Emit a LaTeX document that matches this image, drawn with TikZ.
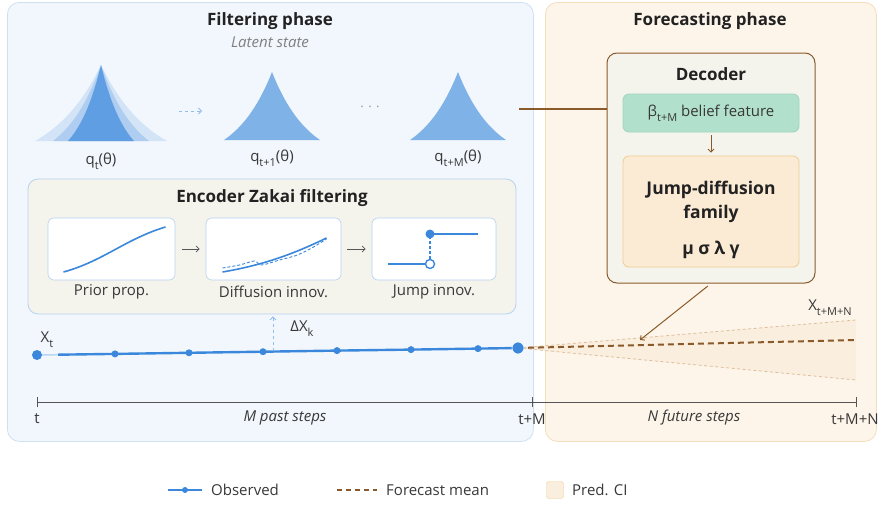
\documentclass[tikz,border=0pt]{standalone}
\usepackage{fontspec}
\setmainfont{Open Sans}
\usetikzlibrary{arrows.meta, positioning, calc, backgrounds}

\definecolor{ink}{HTML}{222222}
\definecolor{obs}{HTML}{3B87DB}
\definecolor{obslight}{HTML}{B9D6F3}
\definecolor{fcst}{HTML}{8B5A2B}
\definecolor{filtbg}{HTML}{F2F7FD}
\definecolor{filtln}{HTML}{CFE0F3}
\definecolor{fcstbg}{HTML}{FDF5EA}
\definecolor{fcstln}{HTML}{F5DEBD}
\definecolor{encbg}{HTML}{F4F3EC}
\definecolor{encln}{HTML}{B7D2EF}
\definecolor{belbg}{HTML}{B1E0CC}
\definecolor{belln}{HTML}{9FD5BE}
\definecolor{jdbg}{HTML}{FBEBD5}
\definecolor{jdln}{HTML}{F1CD8F}
\definecolor{cibg}{HTML}{FAEEDE}
\definecolor{ciln}{HTML}{DDBF9B}
\definecolor{pkout}{HTML}{D3E4F7}
\definecolor{pkmid}{HTML}{AECDF0}
\definecolor{pkin}{HTML}{5F9EE2}
\definecolor{pk}{HTML}{7FB3E8}
\definecolor{axisc}{HTML}{555555}

% lowered subscript, as in q_t
\newcommand{\lo}[1]{\raisebox{-0.6ex}{\fontsize{11}{11}\selectfont#1}}

\tikzset{
  phase/.style={rectangle, rounded corners=12pt, line width=0.8pt, anchor=north west},
  box/.style={rectangle, rounded corners=10pt, line width=0.8pt},
  ttl/.style={font=\fontsize{17}{21}\selectfont\bfseries, text=ink, align=center, inner sep=1pt},
  note/.style={font=\fontsize{15}{18}\selectfont\itshape, text=black!50, inner sep=1pt},
  lbl/.style={font=\fontsize{15}{18}\selectfont, text=ink!90, inner sep=1pt},
  pane/.style={rectangle, rounded corners=6pt, draw=encln, fill=white, line width=0.6pt, minimum height=62pt},
  obsline/.style={draw=obs, line width=2.4pt},
  obsdot/.style={circle, fill=obs, inner sep=0pt, minimum size=7pt},
  fl/.style={-{Straight Barb[length=3pt, width=6pt]}, line width=0.8pt},
  ciedge/.style={draw=ciln, line width=0.8pt, dash pattern=on 3pt off 2.5pt},
  mean/.style={draw=fcst, line width=2pt, dash pattern=on 6pt off 4pt}
}

\begin{document}
\begin{tikzpicture}[x=1pt, y=-1pt]
\useasboundingbox (0,0) rectangle (884,506);
\fill[white] (0,0) rectangle (884,506);

% the two phases
\node[phase, draw=filtln, fill=filtbg, minimum width=526pt, minimum height=439pt] (filt) at (7,2) {};
\node[phase, draw=fcstln, fill=fcstbg, minimum width=331pt, minimum height=439pt] (fore) at (545,2) {};
\node[ttl] (filtttl) at (270,21) {Filtering phase};
\node[note] (latent) at (270,42) {Latent state};
\node[ttl] (forettl) at (710,21) {Forecasting phase};

% latent densities
\foreach \w/\c in {66/pkout, 48/pkmid, 33/pkin}
  \fill[\c] plot[domain=-\w:\w, samples=81, variable=\u]
    ({101+\u}, {141-76*(exp(-1.3*abs(\u)/\w)-exp(-1.3))/(1-exp(-1.3))}) -- cycle;
\foreach \cx in {272, 458}
  \fill[pk] plot[domain=-48:48, samples=81, variable=\u]
    ({\cx+\u}, {140-68*(exp(-1.3*abs(\u)/48)-exp(-1.3))/(1-exp(-1.3))}) -- cycle;
\coordinate (pk1) at (101,111);
\coordinate (pk2) at (272,111);
\coordinate (pk3) at (519,109);
\node[lbl] (q1) at (101,161) {q\lo{t}(θ)};
\node[lbl] (q2) at (272,158) {q\lo{t+1}(θ)};
\node[lbl] (q3) at (458,158) {q\lo{t+M}(θ)};
\draw[fl, obs!55, dashed, shorten <=78pt, shorten >=70pt] (pk1) -- (pk2);
\node[text=black!40, font=\fontsize{13}{13}\selectfont] (dots) at (370,109) {·\,\,·\,\,·};

% decoder
\node[box, draw=fcst, fill=encbg, line width=1pt, minimum width=208pt, minimum height=230pt] (dec) at (711,168) {};
\node[ttl] (decttl) at (711,74) {Decoder};
\node[box, rounded corners=6pt, draw=belln, fill=belbg, minimum width=176pt, minimum height=38pt, lbl] (bel) at (711,113) {β\lo{t+M} belief feature};
\node[box, rounded corners=6pt, draw=jdln, fill=jdbg, minimum width=176pt, minimum height=111pt] (jd) at (711,211.5) {};
\node[ttl, font=\fontsize{17.5}{24}\selectfont\bfseries] (jdname) at (711,202) {Jump-diffusion\\family};
\node[ttl, font=\fontsize{17.5}{20}\selectfont\bfseries] (jdpar) at (711,250) {μ σ λ γ};
\draw[fl, fcst, shorten <=3pt, shorten >=3pt] (bel) -- (jd);
\draw[fcst, line width=1.2pt] (pk3) -- (pk3 -| dec.west);

% encoder
\node[box, draw=encln, fill=encbg, minimum width=488pt, minimum height=135pt] (enc) at (272,246.5) {};
\node[ttl] (encttl) at (272,198) {Encoder Zakai filtering};
\node[pane, minimum width=127pt] (prior) at (111.5,249) {};
\node[pane, minimum width=135pt] (diff) at (273.5,249) {};
\node[pane, minimum width=124pt] (jump) at (434,249) {};
\node[lbl] at (111.5,292) {Prior prop.};
\node[lbl] at (273.5,292) {Diffusion innov.};
\node[lbl] at (434,292) {Jump innov.};
\draw[fl, axisc, shorten <=7pt, shorten >=6pt] (prior) -- (diff);
\draw[fl, axisc, shorten <=6pt, shorten >=6pt] (diff) -- (jump);

\begin{scope}[shift={(prior.center)}]
  \draw[obs, line width=1.6pt] (-48,23) .. controls (-8,12) and (14,-10) .. (54,-22);
\end{scope}
\begin{scope}[shift={(diff.center)}]
  \draw[obs, line width=1.6pt] (-51,23) .. controls (-10,16) and (20,5) .. (53,-11);
  \draw[obs, line width=0.9pt, dash pattern=on 3pt off 2pt] plot[smooth] coordinates
    {(-51,19) (-34,16) (-19,12) (-12,16) (6,11) (24,6) (40,-2) (53,-10)};
\end{scope}
\begin{scope}[shift={(jump.center)}]
  \draw[obs, line width=1.6pt] (-46,15) -- (-8,15);
  \draw[obs, line width=1.4pt, dash pattern=on 3pt off 2pt] (-4,10) -- (-4,-15);
  \draw[obs, line width=1.6pt] (-4,-15) -- (44,-15);
  \fill[obs] (-4,-15) circle (4.5pt);
  \draw[obs, fill=white, line width=1.4pt] (-4,15) circle (4.5pt);
\end{scope}

% observed path and forecast
\foreach \x/\y [count=\i from 0] in {37/355, 115/353.9, 189/352.8, 263/351.7, 337/350.6, 411/349.6, 478/348.6, 518/348}
  \coordinate (p\i) at (\x,\y);
\coordinate (ciu) at (856,320);
\coordinate (cil) at (856,380);
\coordinate (fend) at (856,340);
\coordinate (hit) at (640,340);
\fill[cibg] (p7) -- (ciu) -- (cil) -- cycle;
\draw[ciedge] (p7) -- (ciu) (p7) -- (cil);
\draw[mean] (p7) -- (fend);
\draw[obslight, line width=1.5pt] (p0) -- ($(p0)!0.27!(p1)$);
\draw[obsline] ($(p0)!0.27!(p1)$) -- (p1) -- (p2) -- (p3) -- (p4) -- (p5) -- (p6) -- (p7);
\foreach \i in {1,...,6}
  \node[obsdot] at (p\i) {};
\node[obsdot, minimum size=10pt] (x0) at (p0) {};
\node[obsdot, minimum size=12pt, draw=white, line width=0.6pt] (xm) at (p7) {};
\node[lbl] (xt) at (47,340) {X\lo{t}};
\node[lbl] (xn) at (830,308) {X\lo{t+M+N}};
\draw[fl, fcst, line width=1pt, shorten <=4pt] (dec.south) -- (hit);

\coordinate (dk) at (273,351);
\draw[fl, obs!55, dashed, shorten >=2pt] (dk) -- (dk |- enc.south);
\node[lbl] (dxk) at (302,329) {ΔX\lo{k}};

% time axis
\coordinate (a0) at (37,402);
\coordinate (aM) at (532,402);
\coordinate (aN) at (856,402);
\draw[axisc, line width=1pt] (a0) -- (aN);
\foreach \c in {a0, aM, aN}
  \draw[axisc, line width=1pt] ($(\c)+(0,-5)$) -- ($(\c)+(0,5)$);
\node[lbl] at (37,419) {t};
\node[lbl] at (532,419) {t+M};
\node[lbl] at (855,419) {t+M+N};
\node[lbl, font=\fontsize{15}{18}\selectfont\itshape] at (285,418) {M past steps};
\node[lbl, font=\fontsize{15}{18}\selectfont\itshape] at (694,418) {N future steps};

% legend
\coordinate (lg1) at (168,490);
\coordinate (lg2) at (337,490);
\draw[obsline, line width=2pt] (lg1) -- ++(34,0);
\node[obsdot, minimum size=6pt] at ($(lg1)+(17,0)$) {};
\node[lbl, anchor=west] at (210,490) {Observed};
\draw[fcst, line width=1.5pt, dash pattern=on 5pt off 4pt] (lg2) -- ++(40,0);
\node[lbl, anchor=west] at (385,490) {Forecast mean};
\node[rectangle, rounded corners=2.5pt, draw=jdln, fill=cibg, minimum size=17pt] (lg3) at (555,490) {};
\node[lbl, anchor=west] at (571,490) {Pred. CI};
\end{tikzpicture}
\end{document}
